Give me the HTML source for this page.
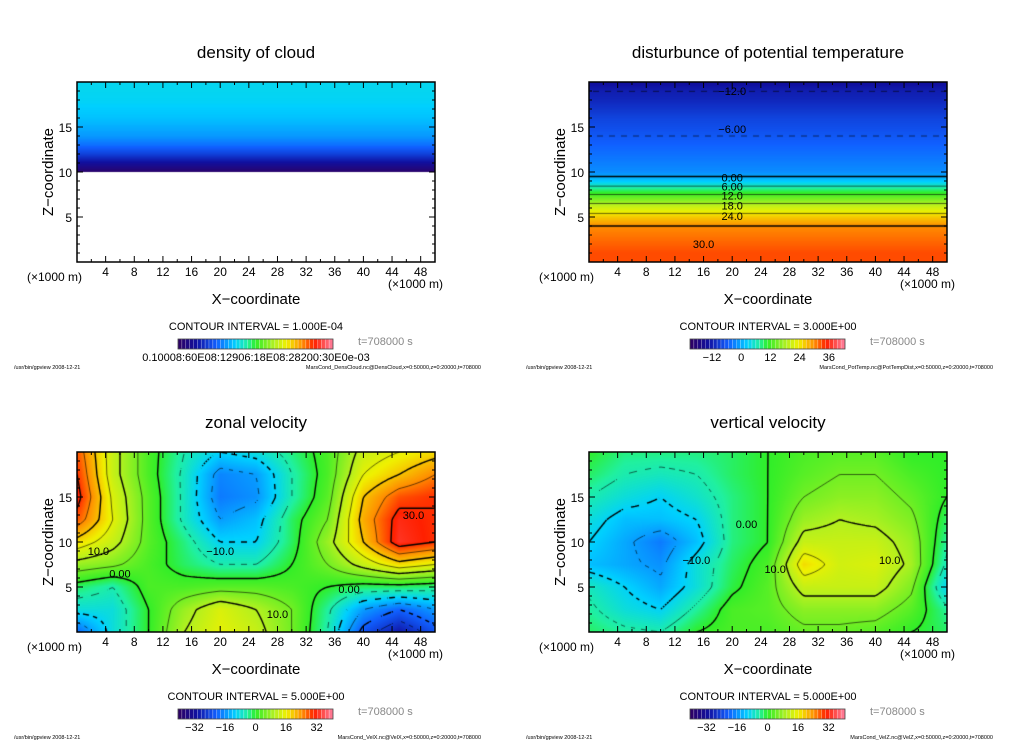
<!DOCTYPE html>
<html><head><meta charset="utf-8">
<style>
html,body{margin:0;padding:0;background:#fff;}
#root{position:relative;width:1024px;height:740px;overflow:hidden;background:#fff;font-family:"Liberation Sans",sans-serif;color:#000;}
canvas{position:absolute;}
svg{position:absolute;left:0;top:0;}
</style></head>
<body>
<div id="root">
<svg id="ov" width="1024" height="740"></svg>
</div>
<script>
// ---- data (x = 0..50 step 5 ; z rows top->bottom 20..0 step 2.5) ----
const xCategories = [0,5,10,15,20,25,30,35,40,45,50];
const zRows = [20,17.5,15,12.5,10,7.5,5,2.5,0];
const zonalVelocity = [
 [28,12,2,-5,-10,-8,-3,2,12,15,18],
 [30,12,2,-6,-17,-15,-5,2,15,20,25],
 [32,14,3,-6,-18,-16,-5,3,20,28,30],
 [28,15,3,-6,-15,-12,-2,5,22,32,30],
 [18,12,3,-3,-10,-10,-2,8,20,33,30],
 [8,6,2,-2,-5,-5,0,5,12,18,15],
 [-2,-5,2,2,3,3,2,0,-2,-2,-3],
 [-8,-8,0,8,14,10,5,-4,-15,-20,-15],
 [-20,-8,0,10,15,12,5,-5,-22,-30,-22]
];
const verticalVelocity = [
 [0,-3,-3,-3,-2,0,2,3,3,0,0],
 [-2,-5,-6,-5,-2,0,3,5,5,2,0],
 [-5,-8,-10,-7,-3,0,5,7,7,4,0],
 [-8,-12,-12,-10,-3,0,8,10,9,6,-2],
 [-10,-14,-18,-12,-3,0,12,12,12,8,-4],
 [-12,-14,-16,-8,-2,2,18,13,14,9,-6],
 [-6,-10,-14,-8,-1,3,12,12,12,6,-10],
 [-4,-8,-10,-4,2,3,7,7,7,3,-4],
 [-2,-4,-5,0,2,2,4,4,3,0,-2]
];
// profiles vs z = 0..20 step 1
const tempProfileZ = [0,1,2,3,4,5,6,7,8,9,10,11,12,13,14,15,16,17,18,19,20];
const potTempProfile = [33,33,32,31,30,26,21,15,9,2,-2,-3,-4,-5,-6,-7,-8,-9.5,-11,-12,-14];
const cloudProfile = [null,null,null,null,null,null,null,null,null,null,0.1,0.5,0.9,1.2,1.4,1.5,1.6,1.65,1.7,1.72,1.72];
const xTickLabels = [4,8,12,16,20,24,28,32,36,40,44,48];
const zTickLabels = [5,10,15];

const stops=[[0,[48,0,96]],[0.12,[16,16,160]],[0.25,[16,96,255]],[0.37,[0,208,255]],[0.45,[32,240,160]],[0.5,[48,238,40]],[0.62,[176,240,32]],[0.7,[240,240,0]],[0.8,[255,144,0]],[0.88,[255,32,0]],[1,[255,128,160]]];
function cmap(t){t=Math.max(0,Math.min(1,t));for(let i=1;i<stops.length;i++){if(t<=stops[i][0]){const a=stops[i-1],b=stops[i];const f=(t-a[0])/(b[0]-a[0]);return [0,1,2].map(k=>Math.round(a[1][k]+(b[1][k]-a[1][k])*f));}}return stops[stops.length-1][1];}
function gridField(g){return (x,z)=>{let gx=Math.max(0,Math.min(10,x/5)),gy=Math.max(0,Math.min(8,(20-z)/2.5));let i=Math.min(9,Math.floor(gx)),j=Math.min(7,Math.floor(gy));let fx=gx-i,fy=gy-j;return g[j][i]*(1-fx)*(1-fy)+g[j][i+1]*fx*(1-fy)+g[j+1][i]*(1-fx)*fy+g[j+1][i+1]*fx*fy;};}
function profField(p){return (x,z)=>{let g=Math.max(0,Math.min(20,z));let i=Math.min(19,Math.floor(g)),f=g-i;if(p[i]===null||p[i+1]===null){return (p[i]===null&&z<10)?null:(p[i+1]!==null?p[i+1]:p[i]);}return p[i]*(1-f)+p[i+1]*f;};}

const NS="http://www.w3.org/2000/svg";
const ov=document.getElementById('ov');
function txt(x,y,s,size,opts){const t=document.createElementNS(NS,'text');t.setAttribute('x',x);t.setAttribute('y',y);t.setAttribute('font-size',size);t.setAttribute('font-family','Liberation Sans, sans-serif');t.setAttribute('text-anchor',(opts&&opts.anchor)||'start');if(opts&&opts.fill)t.setAttribute('fill',opts.fill);if(opts&&opts.rot)t.setAttribute('transform','rotate(-90 '+x+' '+y+')');t.textContent=s;ov.appendChild(t);return t;}
function line(x1,y1,x2,y2,w){const l=document.createElementNS(NS,'line');l.setAttribute('x1',x1);l.setAttribute('y1',y1);l.setAttribute('x2',x2);l.setAttribute('y2',y2);l.setAttribute('stroke','#000');l.setAttribute('stroke-width',w||1);ov.appendChild(l);return l;}

function panel(ox,oy,cfg){
  const X0=ox+77,Y0=oy+82,W=358,H=180;
  const xs=x=>X0+x/50*W, zs=z=>Y0+H-z/20*H;
  const cv=document.createElement('canvas');cv.width=W;cv.height=H;cv.style.left=X0+'px';cv.style.top=Y0+'px';
  
  
  document.getElementById('root').insertBefore(cv,ov);
  const ctx=cv.getContext('2d');const img=ctx.createImageData(W,H);
  for(let py=0;py<H;py++)for(let px=0;px<W;px++){const x=(px+0.5)/W*50,z=20-(py+0.5)/H*20;const v=cfg.f(x,z);const k=(py*W+px)*4;let c=v===null?[255,255,255]:cmap((v-cfg.lo)/(cfg.hi-cfg.lo));img.data[k]=c[0];img.data[k+1]=c[1];img.data[k+2]=c[2];img.data[k+3]=255;}
  ctx.putImageData(img,0,0);
  if(cfg.levels){const s=2,nx=Math.floor(W/s)+1,ny=Math.floor(H/s)+1;const V=[];for(let j=0;j<ny;j++){V[j]=[];for(let i=0;i<nx;i++){V[j][i]=cfg.f(i*s/W*50,20-j*s/H*20);}}
   cfg.levels.forEach(L=>{ctx.strokeStyle='#000';ctx.lineWidth=(Math.abs(L)%10===0)?1.4:0.6;ctx.beginPath();
    for(let j=0;j<ny-1;j++)for(let i=0;i<nx-1;i++){if(L<0&&Math.floor((i+j)/3)%2)continue;const a=V[j][i],b=V[j][i+1],c=V[j+1][i+1],d=V[j+1][i];if(a===null||b===null||c===null||d===null)continue;const pts=[];
     const e=(v1,v2,x1,y1,x2,y2)=>{if((v1<L)!==(v2<L)){const f=(L-v1)/(v2-v1);pts.push([x1+(x2-x1)*f,y1+(y2-y1)*f]);}};
     e(a,b,i*s,j*s,(i+1)*s,j*s);e(b,c,(i+1)*s,j*s,(i+1)*s,(j+1)*s);e(d,c,i*s,(j+1)*s,(i+1)*s,(j+1)*s);e(a,d,i*s,j*s,i*s,(j+1)*s);
     for(let k=0;k+1<pts.length;k+=2){ctx.moveTo(pts[k][0],pts[k][1]);ctx.lineTo(pts[k+1][0],pts[k+1][1]);}}
    ctx.stroke();});}
  const r=document.createElementNS(NS,'rect');r.setAttribute('x',X0);r.setAttribute('y',Y0);r.setAttribute('width',W);r.setAttribute('height',H);r.setAttribute('fill','none');r.setAttribute('stroke','#000');r.setAttribute('stroke-width',1.5);
  
  
  ov.appendChild(r);
  for(let x=2;x<50;x+=2){const L=x%4===0?6:3;line(xs(x),Y0+H,xs(x),Y0+H-L);line(xs(x),Y0,xs(x),Y0+L);}
  for(let z=1;z<20;z++){const L=z%5===0?6:3;line(X0,zs(z),X0+L,zs(z));line(X0+W,zs(z),X0+W-L,zs(z));}
  xTickLabels.forEach(v=>{const t=txt(xs(v),oy+276,String(v),12,{anchor:'middle'});
    
    });
  zTickLabels.forEach(v=>{const t=txt(X0-5,zs(v)+5,String(v),12,{anchor:'end'});
    
    });
  let t;
  t=txt(ox+256,oy+58,cfg.title,17,{anchor:'middle'});
  t=txt(ox+53,oy+172,'Z−coordinate',15,{anchor:'middle',rot:1});
  t=txt(ox+27,oy+281,'(×1000 m)',12);
  t=txt(ox+388,oy+288,'(×1000 m)',12);
  t=txt(ox+256,oy+304,'X−coordinate',15,{anchor:'middle'});
  t=txt(ox+256,oy+330,'CONTOUR INTERVAL = '+cfg.ci,11,{anchor:'middle'});
  t=txt(ox+358,oy+345,'t=708000 s',11,{fill:'#888'});
  const cb=document.createElementNS(NS,'g');ov.appendChild(cb);
  const n=40,bx=ox+178,bw=155;for(let i=0;i<n;i++){const c=cmap((i+0.5)/n);const rr=document.createElementNS(NS,'rect');rr.setAttribute('x',bx+i*bw/n);rr.setAttribute('y',oy+339);rr.setAttribute('width',bw/n);rr.setAttribute('height',10);rr.setAttribute('fill','rgb('+c.join(',')+')');rr.setAttribute('stroke','rgba(255,255,255,0.35)');rr.setAttribute('stroke-width',0.6);cb.appendChild(rr);}
  const fr=document.createElementNS(NS,'rect');fr.setAttribute('x',bx);fr.setAttribute('y',oy+339);fr.setAttribute('width',bw);fr.setAttribute('height',10);fr.setAttribute('fill','none');fr.setAttribute('stroke','#444');fr.setAttribute('stroke-width',0.8);cb.appendChild(fr);
  if(cfg.cbText){t=txt(ox+256,oy+361,cfg.cbText,11,{anchor:'middle'});}
  else cfg.cbTicks.forEach(v=>{t=txt(bx+(v-cfg.lo)/(cfg.hi-cfg.lo)*bw,oy+361,String(v).replace('-','−'),11,{anchor:'middle'});});
  t=txt(ox+14,oy+369,'/usr/bin/gpview   2008-12-21',5.5);
  t=txt(ox+481,oy+369,cfg.foot,5.5,{anchor:'end'});
  (cfg.labels||[]).forEach(l=>{const q=txt(xs(l[0]),zs(l[1])+4,l[2],11,{anchor:'middle'});});
}
const lv5=[];for(let v=-40;v<=40;v+=5)lv5.push(v);
const lv6=[];for(let v=-18;v<=36;v+=6)lv6.push(v);
panel(0,0,{name:'cloud-density',title:'density of cloud',f:profField(cloudProfile),lo:0,hi:4.5,ci:'1.000E-04',cbText:'0.10008:60E08:12906:18E08:28200:30E0e-03',foot:'MarsCond_DensCloud.nc@DensCloud,x=0:50000,z=0:20000,t=708000'});
panel(512,0,{name:'potential-temperature',title:'disturbunce of potential temperature',f:profField(potTempProfile),lo:-21,hi:42.6,levels:lv6,ci:'3.000E+00',cbTicks:[-12,0,12,24,36],foot:'MarsCond_PotTemp.nc@PotTempDist,x=0:50000,z=0:20000,t=708000',
 labels:[[20,19,'−12.0'],[20,14.8,'−6.00'],[20,9.4,'0.00'],[20,8.4,'6.00'],[20,7.4,'12.0'],[20,6.3,'18.0'],[20,5.1,'24.0'],[16,2,'30.0']]});
panel(0,370,{name:'zonal-velocity',title:'zonal velocity',f:gridField(zonalVelocity),lo:-40.6,hi:40.6,levels:lv5,ci:'5.000E+00',cbTicks:[-32,-16,0,16,32],foot:'MarsCond_VelX.nc@VelX,x=0:50000,z=0:20000,t=708000',
 labels:[[3,9,'10.0'],[6,6.5,'0.00'],[20,9,'−10.0'],[28,2,'10.0'],[38,4.8,'0.00'],[47,13,'30.0']]});
panel(512,370,{name:'vertical-velocity',title:'vertical velocity',f:gridField(verticalVelocity),lo:-40.6,hi:40.6,levels:lv5,ci:'5.000E+00',cbTicks:[-32,-16,0,16,32],foot:'MarsCond_VelZ.nc@VelZ,x=0:50000,z=0:20000,t=708000',
 labels:[[22,12,'0.00'],[26,7,'10.0'],[42,8,'10.0'],[15,8,'−10.0']]});
</script>
</body></html>
